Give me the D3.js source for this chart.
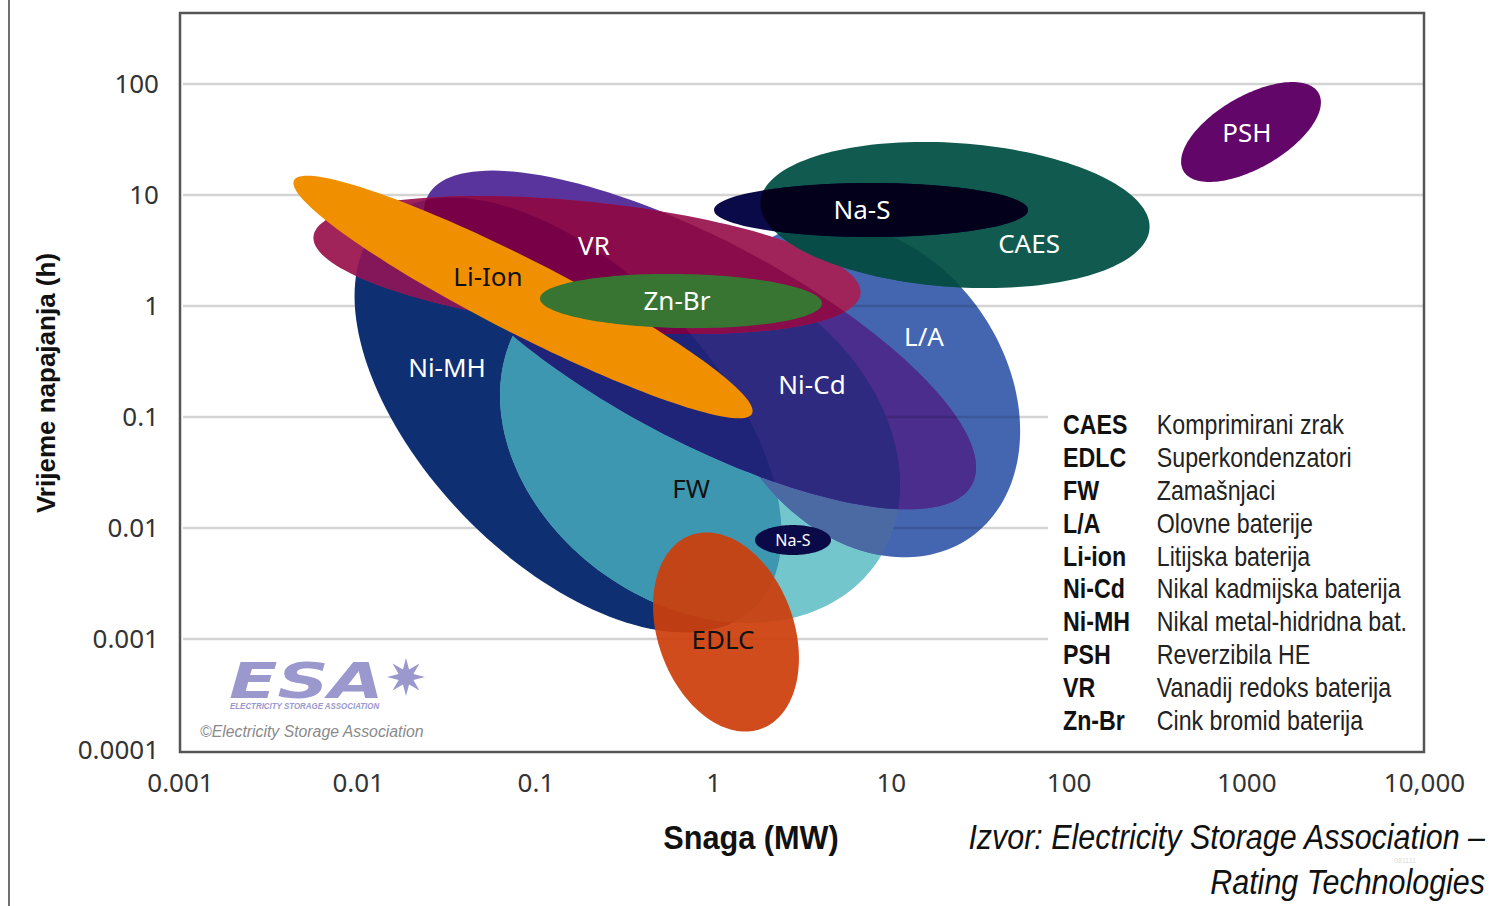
<!DOCTYPE html>
<html>
<head>
<meta charset="utf-8">
<title>Snaga vs vrijeme napajanja - tehnologije pohrane</title>
<script src="https://cdn.jsdelivr.net/npm/d3@7/dist/d3.min.js"></script>
<style>
  html, body { margin: 0; padding: 0; background: #ffffff; }
  svg { display: block; }
</style>
</head>
<body>
<svg id="chart" width="1506" height="906"></svg>
<script>
// Axis ticks (log scales)
const powerTicks = [0.001, 0.01, 0.1, 1, 10, 100, 1000, 10000];
const powerLabels = ['0.001', '0.01', '0.1', '1', '10', '100', '1000', '10,000'];
const hourTicks = [0.0001, 0.001, 0.01, 0.1, 1, 10, 100];
const hourLabels = ['0.0001', '0.001', '0.01', '0.1', '1', '10', '100'];

// Technology ranges, drawn back to front.
// Each range is an ellipse in log-log space: centre, end of main axis, end of second axis (MW, h)
const shapeIds      = ['nimh', 'fw', 'la', 'nicd', 'vr', 'caes', 'nas', 'liion', 'znbr', 'edlc', 'nas2', 'psh'];
const shapeLabels   = ['Ni-MH', 'FW', 'L/A', 'Ni-Cd', 'VR', 'CAES', 'Na-S', 'Li-Ion', 'Zn-Br', 'EDLC', 'Na-S', 'PSH'];
const centrePower   = [0.1526, 0.8435, 7.343, 0.8435, 0.1951, 22.96, 7.733, 0.08514, 0.6595, 1.181, 2.814, 1063];
const centreHours   = [0.1042, 0.06206, 0.1751, 0.4941, 2.341, 6.604, 7.327, 1.205, 1.109, 0.001156, 0.007794, 36.95];
const majorPower    = [1.705, 8.262, 28.01, 28.62, 6.751, 285.4, 59.14, 1.654, 4.099, 1.864, 4.606, 2550];
const majorHours    = [0.001914, 0.004799, 0.008228, 0.02465, 1.291, 4.982, 7.327, 0.1071, 1.053, 0.0001552, 0.007794, 82.96];
const minorPower    = [0.03949, 0.2473, 1.698, 0.4595, 0.1791, 21.52, 7.733, 0.06848, 0.6553, 0.5161, 2.814, 1343];
const minorHours    = [0.01291, 0.003765, 0.03386, 0.07912, 0.6374, 1.489, 4.183, 0.6077, 0.6334, 0.0007134, 0.005711, 19.34];

// Where each name is written (MW, h)
const labelPower = [0.0318, 0.751, 15.37, 3.60, 0.2136, 59.9, 6.88, 0.0541, 0.626, 1.137, 2.81, 1009];
const labelHours = [0.2763, 0.02246, 0.5256, 0.1942, 3.47, 3.62, 7.33, 1.825, 1.11, 0.00098, 0.0078, 36.2];

// Legend
const legendCodes = ['CAES', 'EDLC', 'FW', 'L/A', 'Li-ion', 'Ni-Cd', 'Ni-MH', 'PSH', 'VR', 'Zn-Br'];
const legendNames = ['Komprimirani zrak', 'Superkondenzatori', 'Zamašnjaci', 'Olovne baterije', 'Litijska baterija',
  'Nikal kadmijska baterija', 'Nikal metal-hidridna bat.', 'Reverzibila HE', 'Vanadij redoks baterija', 'Cink bromid baterija'];

// Colours
const fillColor = {
  nimh: '#0e2f72', fw: '#72c6cc', la: '#4466b0', nicd: '#58349c', vr: '#a0245a', caes: '#115a4f',
  nas: '#0a0a48', liion: '#f09000', znbr: '#387533', edlc: '#cc3e0c', nas2: '#0a0a48', psh: '#62066a'
};
const labelColor = { liion: '#111', fw: '#111', edlc: '#111' };
// overlaps get their own mixed colour
const overlaps = [
  { base: 'fw', within: ['nimh'], color: '#3e97b0' },
  { base: 'la', within: ['fw'], color: '#4b69a3' },
  { base: 'nicd', within: ['la'], color: '#4a2d8c' },
  { base: 'nicd', within: ['fw'], color: '#2d2a80' },
  { base: 'nicd', within: ['nimh'], color: '#1f2478' },
  { base: 'vr', within: ['nicd'], color: '#8a0c4a' },
  { base: 'vr', within: ['nimh'], color: '#84165a' },
  { base: 'vr', within: ['nicd', 'nimh'], color: '#780046' },
  { base: 'caes', within: ['la'], color: '#084c48' },
  { base: 'nas', within: ['caes'], color: '#03001c' }
];

const svg = d3.select('#chart');
const defs = svg.append('defs');

// Scales: power in MW on x, discharge time in hours on y
const x = d3.scaleLog().domain([0.001, 10000]).range([180, 1424]);
const y = d3.scaleLog().domain([0.0001, 100]).range([750, 84]);
const frameTop = 13;

// Build an ellipse path from centre + two conjugate axis ends
function ellipsePath(i) {
  const cx = x(centrePower[i]), cy = y(centreHours[i]);
  const ax = x(majorPower[i]) - cx, ay = y(majorHours[i]) - cy;
  const bx = x(minorPower[i]) - cx, by = y(minorHours[i]) - cy;
  const pts = d3.range(0, 160).map(k => {
    const t = k / 160 * 2 * Math.PI;
    return [cx + ax * Math.cos(t) + bx * Math.sin(t), cy + ay * Math.cos(t) + by * Math.sin(t)];
  });
  return d3.line()(pts) + 'Z';
}
const idx = id => shapeIds.indexOf(id);

// outer page border on the left
svg.append('line')
  .attr('x1', 9).attr('x2', 9).attr('y1', 0).attr('y2', 906)
  .attr('stroke', '#707070').attr('stroke-width', 2);

// horizontal gridlines
const gridHours = hourTicks.filter(d => d > 0.0001);
svg.append('g').selectAll('line')
  .data(gridHours)
  .join('line')
  .attr('x1', 183).attr('x2', 1424)
  .attr('y1', d => y(d)).attr('y2', d => y(d))
  .attr('stroke', '#d4d4d4').attr('stroke-width', 2.5);

// white box behind the legend hides the grid there
svg.append('rect')
  .attr('x', 1048).attr('y', 404).attr('width', 375).attr('height', 346)
  .attr('fill', '#ffffff');

// clip paths, one per shape
shapeIds.forEach((id, i) => {
  defs.append('clipPath').attr('id', 'clip-' + id)
    .append('path').attr('d', ellipsePath(i));
});

// mask: L/A outside FW, where the grid shows through
const gridMask = defs.append('mask').attr('id', 'mask-grid')
  .attr('maskUnits', 'userSpaceOnUse').attr('x', 0).attr('y', 0).attr('width', 1506).attr('height', 906);
gridMask.append('path').attr('d', ellipsePath(idx('la'))).attr('fill', '#fff');
gridMask.append('path').attr('d', ellipsePath(idx('fw'))).attr('fill', '#000');

// shapes
const shapes = svg.append('g').attr('class', 'shapes');
shapeIds.forEach((id, i) => {
  shapes.append('path')
    .attr('d', ellipsePath(i))
    .attr('fill', fillColor[id])
    .attr('fill-opacity', id === 'edlc' ? 0.93 : 1);

  overlaps.filter(o => o.base === id).forEach(o => {
    let g = shapes;
    o.within.forEach(w => {
      g = g.append('g').attr('clip-path', `url(#clip-${w})`);
    });
    g.append('path').attr('d', ellipsePath(i)).attr('fill', o.color);
  });

  // faint gridlines seen through the lead-acid area
  if (id === 'nicd') {
    shapes.append('g').attr('mask', 'url(#mask-grid)')
      .selectAll('line')
      .data(gridHours)
      .join('line')
      .attr('x1', 183).attr('x2', 1424)
      .attr('y1', d => y(d)).attr('y2', d => y(d))
      .attr('stroke', '#000').attr('stroke-opacity', 0.13).attr('stroke-width', 2.5);
  }
});

// labels inside shapes
svg.append('g').selectAll('text')
  .data(shapeIds)
  .join('text')
  .attr('x', (d, i) => x(labelPower[i]))
  .attr('y', (d, i) => y(labelHours[i]))
  .attr('dy', '0.36em')
  .attr('text-anchor', 'middle')
  .attr('font-family', 'Noto Sans, Open Sans, sans-serif')
  .attr('font-size', d => d === 'nas2' ? 16 : 26)
  .attr('fill', d => labelColor[d] || '#ffffff')
  .text((d, i) => shapeLabels[i]);

// y axis labels
const yAxis = svg.append('g')
  .attr('transform', 'translate(180,0)')
  .call(d3.axisLeft(y).tickValues(hourTicks).tickFormat((d, i) => hourLabels[i]).tickSize(0).tickPadding(21));
yAxis.select('.domain').remove();
yAxis.selectAll('text')
  .attr('font-family', 'Noto Sans, sans-serif')
  .attr('font-size', 26)
  .attr('fill', '#333');

// x axis labels
const xAxis = svg.append('g')
  .attr('transform', 'translate(0,752)')
  .call(d3.axisBottom(x).tickValues(powerTicks).tickFormat((d, i) => powerLabels[i]).tickSize(0).tickPadding(22));
xAxis.select('.domain').remove();
xAxis.selectAll('text')
  .attr('font-family', 'Noto Sans, sans-serif')
  .attr('font-size', 26)
  .attr('fill', '#333');

// axis titles
svg.append('text')
  .attr('transform', 'translate(55,383) rotate(-90)')
  .attr('text-anchor', 'middle')
  .attr('font-family', 'Liberation Sans, Arial, sans-serif')
  .attr('font-weight', 'bold')
  .attr('font-size', 26)
  .attr('fill', '#111')
  .text('Vrijeme napajanja (h)');

svg.append('text')
  .attr('transform', 'translate(751,849) scale(0.93,1)')
  .attr('text-anchor', 'middle')
  .attr('font-family', 'Liberation Sans, Arial, sans-serif')
  .attr('font-weight', 'bold')
  .attr('font-size', 33)
  .attr('fill', '#111')
  .text('Snaga (MW)');

// legend (narrow font look)
const legend = svg.append('g').attr('transform', 'translate(1063,0) scale(0.86,1)');
legendCodes.forEach((code, i) => {
  const by = 434 + i * 32.9;
  legend.append('text')
    .attr('x', 0).attr('y', by)
    .attr('font-family', 'Liberation Sans, Arial, sans-serif')
    .attr('font-weight', 'bold')
    .attr('font-size', 27)
    .attr('fill', '#111')
    .text(code);
  legend.append('text')
    .attr('x', 109).attr('y', by)
    .attr('font-family', 'Liberation Sans, Arial, sans-serif')
    .attr('font-size', 27)
    .attr('fill', '#222')
    .text(legendNames[i]);
});

// ESA logo (approximation)
const logo = svg.append('g').attr('fill', '#9a98cc');
logo.append('text')
  .attr('transform', 'translate(229,698) scale(1.45,1)')
  .attr('font-family', 'DejaVu Sans, sans-serif')
  .attr('font-weight', 'bold')
  .attr('font-style', 'italic')
  .attr('font-size', 49)
  .text('ESA');
const star = d3.range(16).map(k => {
  const a = k / 16 * 2 * Math.PI;
  const r = k % 2 === 0 ? 19 : 8;
  return [406 + r * Math.cos(a), 677 + r * Math.sin(a)];
});
logo.append('path').attr('d', d3.line()(star) + 'Z');
logo.append('text')
  .attr('transform', 'translate(230,709) scale(0.88,1)')
  .attr('font-family', 'Liberation Sans, Arial, sans-serif')
  .attr('font-size', 9)
  .attr('font-style', 'italic')
  .attr('font-weight', 'bold')
  .text('ELECTRICITY STORAGE ASSOCIATION');
svg.append('text')
  .attr('transform', 'translate(200,737) scale(0.93,1)')
  .attr('font-family', 'Liberation Sans, Arial, sans-serif')
  .attr('font-size', 17)
  .attr('font-style', 'italic')
  .attr('fill', '#8a8a8a')
  .text('©Electricity Storage Association');

// plot frame
svg.append('rect')
  .attr('x', 180).attr('y', frameTop)
  .attr('width', 1244).attr('height', 752 - frameTop)
  .attr('fill', 'none')
  .attr('stroke', '#555')
  .attr('stroke-width', 2.5);

// source note (narrow italic)
const sourceFont = g => g
  .attr('font-family', 'Liberation Sans, Arial, sans-serif')
  .attr('font-style', 'italic')
  .attr('font-size', 35)
  .attr('fill', '#111')
  .attr('text-anchor', 'end');
svg.append('text')
  .attr('transform', 'translate(1485,849) scale(0.87,1)')
  .call(sourceFont)
  .text('Izvor: Electricity Storage Association –');
svg.append('text')
  .attr('transform', 'translate(1485,894) scale(0.87,1)')
  .call(sourceFont)
  .text('Rating Technologies');

svg.append('text')
  .attr('x', 1405).attr('y', 863)
  .attr('text-anchor', 'middle')
  .attr('font-family', 'Liberation Sans, Arial, sans-serif')
  .attr('font-size', 7)
  .attr('fill', '#dddddd')
  .text('081111');
</script>
</body>
</html>
